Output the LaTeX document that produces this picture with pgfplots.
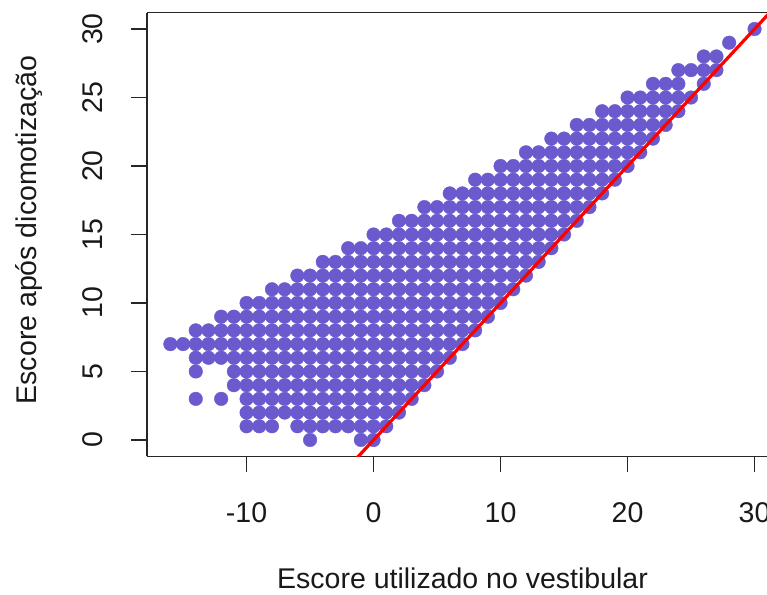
\documentclass[border=0pt]{standalone}
\usepackage{fontspec}
\setmainfont{Liberation Sans}
\usepackage{pgfplots}
\pgfplotsset{compat=1.18}
\definecolor{slate}{HTML}{6A5ACD}
\begin{document}
\begin{tikzpicture}
\begin{axis}[
  at={(0,0)}, anchor=south west,
  scale only axis, width=620pt, height=443.8pt,
  xmin=-17.84, xmax=30.98, ymin=-1.2, ymax=31.2,
  axis lines*=left,
  axis line style={line width=1.6pt, black!85},
  tick style={line width=1.6pt, black!85},
  tick align=outside, major tick length=16pt,
  clip marker paths=true,
  xtick={-10,0,10,20,30}, ytick={0,5,10,15,20,25,30},
  /pgf/number format/assume math mode=true,
  tick label style={font=\fontsize{28.5}{34}\selectfont, text=black!90},
  xticklabel style={anchor=base, yshift=-49.6pt},
  yticklabel style={xshift=-28pt, rotate=90, anchor=base},
  label style={font=\fontsize{28.5}{34}\selectfont, text=black!90},
  xlabel={Escore utilizado no vestibular},
  ylabel={Escore após dicomotização},
  xlabel style={at={(rel axis cs:0.5089,0)}, anchor=base, yshift=-131.6pt},
  ylabel style={at={(rel axis cs:-0.1775,0.51)}, anchor=base},
]
% one line per value of the dichotomised score
\addplot[only marks, mark=*, mark size=6.8pt, color=slate, mark options={draw=slate, fill=slate}] coordinates {
(-5,0) (-1,0) (0,0)
(-10,1) (-9,1) (-8,1) (-6,1) (-5,1) (-4,1) (-3,1) (-2,1) (-1,1) (0,1) (1,1)
(-10,2) (-9,2) (-8,2) (-7,2) (-6,2) (-5,2) (-4,2) (-3,2) (-2,2) (-1,2) (0,2) (1,2) (2,2)
(-14,3) (-12,3) (-10,3) (-9,3) (-8,3) (-7,3) (-6,3) (-5,3) (-4,3) (-3,3) (-2,3) (-1,3) (0,3) (1,3) (2,3) (3,3)
(-11,4) (-10,4) (-9,4) (-8,4) (-7,4) (-6,4) (-5,4) (-4,4) (-3,4) (-2,4) (-1,4) (0,4) (1,4) (2,4) (3,4) (4,4)
(-14,5) (-11,5) (-10,5) (-9,5) (-8,5) (-7,5) (-6,5) (-5,5) (-4,5) (-3,5) (-2,5) (-1,5) (0,5) (1,5) (2,5) (3,5) (4,5) (5,5)
(-14,6) (-13,6) (-12,6) (-11,6) (-10,6) (-9,6) (-8,6) (-7,6) (-6,6) (-5,6) (-4,6) (-3,6) (-2,6) (-1,6) (0,6) (1,6) (2,6) (3,6) (4,6) (5,6) (6,6)
(-16,7) (-15,7) (-14,7) (-13,7) (-12,7) (-11,7) (-10,7) (-9,7) (-8,7) (-7,7) (-6,7) (-5,7) (-4,7) (-3,7) (-2,7) (-1,7) (0,7) (1,7) (2,7) (3,7) (4,7) (5,7) (6,7) (7,7)
(-14,8) (-13,8) (-12,8) (-11,8) (-10,8) (-9,8) (-8,8) (-7,8) (-6,8) (-5,8) (-4,8) (-3,8) (-2,8) (-1,8) (0,8) (1,8) (2,8) (3,8) (4,8) (5,8) (6,8) (7,8) (8,8)
(-12,9) (-11,9) (-10,9) (-9,9) (-8,9) (-7,9) (-6,9) (-5,9) (-4,9) (-3,9) (-2,9) (-1,9) (0,9) (1,9) (2,9) (3,9) (4,9) (5,9) (6,9) (7,9) (8,9) (9,9)
(-10,10) (-9,10) (-8,10) (-7,10) (-6,10) (-5,10) (-4,10) (-3,10) (-2,10) (-1,10) (0,10) (1,10) (2,10) (3,10) (4,10) (5,10) (6,10) (7,10) (8,10) (9,10) (10,10)
(-8,11) (-7,11) (-6,11) (-5,11) (-4,11) (-3,11) (-2,11) (-1,11) (0,11) (1,11) (2,11) (3,11) (4,11) (5,11) (6,11) (7,11) (8,11) (9,11) (10,11) (11,11)
(-6,12) (-5,12) (-4,12) (-3,12) (-2,12) (-1,12) (0,12) (1,12) (2,12) (3,12) (4,12) (5,12) (6,12) (7,12) (8,12) (9,12) (10,12) (11,12) (12,12)
(-4,13) (-3,13) (-2,13) (-1,13) (0,13) (1,13) (2,13) (3,13) (4,13) (5,13) (6,13) (7,13) (8,13) (9,13) (10,13) (11,13) (12,13) (13,13)
(-2,14) (-1,14) (0,14) (1,14) (2,14) (3,14) (4,14) (5,14) (6,14) (7,14) (8,14) (9,14) (10,14) (11,14) (12,14) (13,14) (14,14)
(0,15) (1,15) (2,15) (3,15) (4,15) (5,15) (6,15) (7,15) (8,15) (9,15) (10,15) (11,15) (12,15) (13,15) (14,15) (15,15)
(2,16) (3,16) (4,16) (5,16) (6,16) (7,16) (8,16) (9,16) (10,16) (11,16) (12,16) (13,16) (14,16) (15,16) (16,16)
(4,17) (5,17) (6,17) (7,17) (8,17) (9,17) (10,17) (11,17) (12,17) (13,17) (14,17) (15,17) (16,17) (17,17)
(6,18) (7,18) (8,18) (9,18) (10,18) (11,18) (12,18) (13,18) (14,18) (15,18) (16,18) (17,18) (18,18)
(8,19) (9,19) (10,19) (11,19) (12,19) (13,19) (14,19) (15,19) (16,19) (17,19) (18,19) (19,19)
(10,20) (11,20) (12,20) (13,20) (14,20) (15,20) (16,20) (17,20) (18,20) (19,20) (20,20)
(12,21) (13,21) (14,21) (15,21) (16,21) (17,21) (18,21) (19,21) (20,21) (21,21)
(14,22) (15,22) (16,22) (17,22) (18,22) (19,22) (20,22) (21,22) (22,22)
(16,23) (17,23) (18,23) (19,23) (20,23) (21,23) (22,23) (23,23)
(18,24) (19,24) (20,24) (21,24) (22,24) (23,24) (24,24)
(20,25) (21,25) (22,25) (23,25) (24,25) (25,25)
(22,26) (23,26) (24,26) (26,26)
(24,27) (25,27) (26,27) (27,27)
(26,28) (27,28)
(28,29)
(30,30)
};
% identity line y = x, drawn over the points
\addplot[red, line width=3.2pt] coordinates {(-2,-2) (32,32)};
% top frame line
\draw[line width=1.6pt, black!85] (rel axis cs:0,1) -- (rel axis cs:1,1);
\end{axis}
\pgfresetboundingbox
\useasboundingbox (-147pt,-137.6pt) rectangle (620pt,456.4pt);
\end{tikzpicture}
\end{document}
